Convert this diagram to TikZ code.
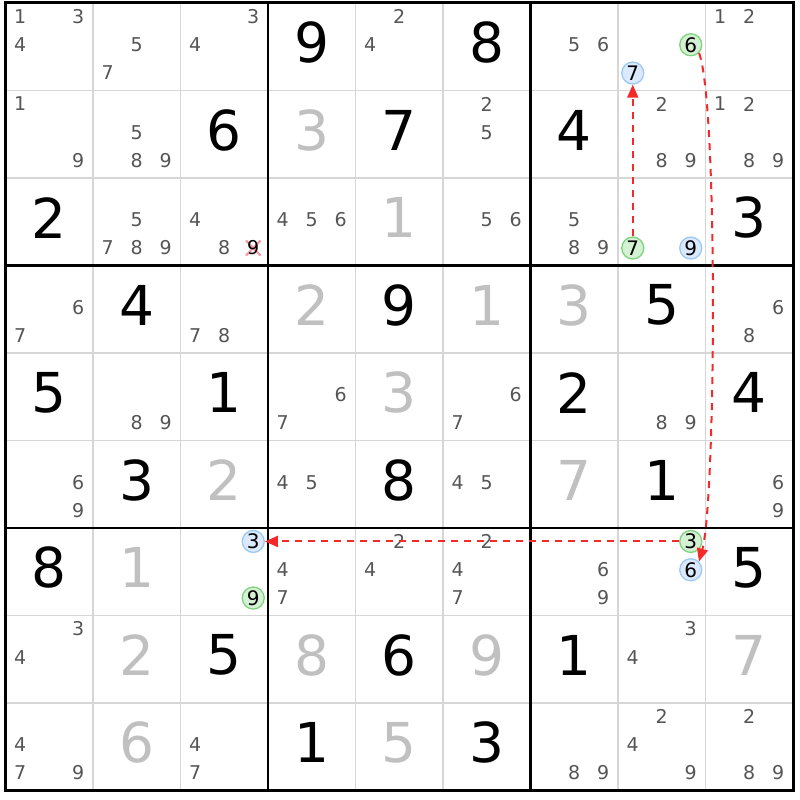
\documentclass[tikz,border=0pt]{standalone}
\usepackage{fontspec}
\setmainfont{DejaVu Sans}
\usetikzlibrary{arrows.meta}

\definecolor{candgray}{HTML}{555555}
\definecolor{solvgray}{HTML}{C0C0C0}
\definecolor{gridgray}{HTML}{D6D6D6}
\definecolor{linkred}{HTML}{F42A2A}
\definecolor{ongreen}{HTML}{D4F1D4}
\definecolor{ongreenb}{HTML}{7ED37E}
\definecolor{offblue}{HTML}{DAE9FD}
\definecolor{offblueb}{HTML}{9DC9F3}
\definecolor{crosspink}{HTML}{F39AA6}

\tikzset{
  given/.style={font=\fontsize{55}{55}\selectfont, text=black, inner sep=0pt},
  solved/.style={given, text=solvgray},
  cand/.style={font=\fontsize{19}{19}\selectfont, text=candgray, inner sep=0pt},
  oncand/.style={font=\fontsize{20}{20}\selectfont, text=black, circle, inner sep=0pt,
    minimum size=22pt, line width=1.3pt, draw=ongreenb, fill=ongreen},
  offcand/.style={oncand, draw=offblueb, fill=offblue},
  link/.style={linkred, dash pattern=on 7pt off 6pt, line width=2pt,
    -{Triangle[length=13pt,width=11pt]}}
}

\begin{document}
\begin{tikzpicture}[x=1pt,y=-1pt]
  \useasboundingbox[fill=white] (0,0) rectangle (800,800);
  %griglia
  \foreach \i in {1,2,4,5,7,8} {
    \draw[gridgray,line width=1.6pt] (5.5+87.5*\i,3) -- (5.5+87.5*\i,790.5);
    \draw[gridgray,line width=1.6pt] (5.5,3+87.5*\i) -- (793,3+87.5*\i);
  }
  \foreach \i in {3,6} {
    \draw[line width=2.2pt] (5.5+87.5*\i,3) -- (5.5+87.5*\i,790.5);
    \draw[line width=2.2pt] (5.5,3+87.5*\i) -- (793,3+87.5*\i);
  }
  \draw[line width=3pt] (5.5,3) rectangle (793,790.5);
  %cifre date
  \foreach \r/\c/\v in {0/3/9,0/5/8,1/2/6,1/4/7,1/6/4,2/0/2,2/8/3,3/1/4,3/4/9,3/7/5,
      4/0/5,4/2/1,4/6/2,4/8/4,5/1/3,5/4/8,5/7/1,6/0/8,6/8/5,7/2/5,7/4/6,7/6/1,8/3/1,8/5/3}
    \node[given] (d\r\c) at (49.25+87.5*\c,42.75+87.5*\r) {\v};
  %cifre risolte
  \foreach \r/\c/\v in {1/3/3,2/4/1,3/3/2,3/5/1,3/6/3,4/4/3,5/2/2,5/6/7,6/1/1,7/1/2,
      7/3/8,7/5/9,7/8/7,8/1/6,8/4/5}
    \node[solved] (d\r\c) at (49.25+87.5*\c,42.75+87.5*\r) {\v};
  %candidati
  \foreach \r/\c/\l in {0/0/{1,3,4},0/1/{5,7},0/2/{3,4},0/4/{2,4},0/6/{5,6},0/8/{1,2},
      1/0/{1,9},1/1/{5,8,9},1/5/{2,5},1/7/{2,8,9},1/8/{1,2,8,9},
      2/1/{5,7,8,9},2/2/{4,8},2/3/{4,5,6},2/5/{5,6},2/6/{5,8,9},
      3/0/{6,7},3/2/{7,8},3/8/{6,8},
      4/1/{8,9},4/3/{6,7},4/5/{6,7},4/7/{8,9},
      5/0/{6,9},5/3/{4,5},5/5/{4,5},5/8/{6,9},
      6/3/{4,7},6/4/{2,4},6/5/{2,4,7},6/6/{6,9},
      7/0/{3,4},7/7/{3,4},
      8/0/{4,7,9},8/2/{4,7},8/6/{8,9},8/7/{2,4,9},8/8/{2,8,9}}
    \foreach \n in \l {
      \pgfmathsetmacro\kx{49.25+87.5*\c+29*(mod(\n-1,3)-1)}
      \pgfmathsetmacro\ky{44.75+87.5*\r+28.3*(floor((\n-1)/3)-1)}
      \node[cand] (k\r\c\n) at (\kx,\ky) {\n};
    }
  %candidato eliminato
  \draw[crosspink,line width=2.2pt] (246,240.5) -- (260.5,255.5) (246,255.5) -- (260.5,240.5);
  \node[cand,text=black] (k229) at (253.25,248.05) {9};
  %catena
  \foreach \r/\c/\n/\s/\nm in {0/7/6/oncand/g6,0/7/7/offcand/b7,2/7/7/oncand/g7,
      2/7/9/offcand/b9,6/2/3/offcand/b3,6/2/9/oncand/g9,6/7/3/oncand/g3,6/7/6/offcand/b6} {
    \pgfmathsetmacro\kx{49.25+87.5*\c+29*(mod(\n-1,3)-1)}
    \pgfmathsetmacro\ky{44.75+87.5*\r+28.3*(floor((\n-1)/3)-1)}
    \node[\s] (\nm) at (\kx,\ky) {\n};
  }
  \draw[link] (g7) -- (b7);
  \draw[link] (g6.south east) .. controls (718,100) and (716,500) .. (b6.north east);
  \draw[link] (g3) -- (b3);
\end{tikzpicture}
\end{document}
